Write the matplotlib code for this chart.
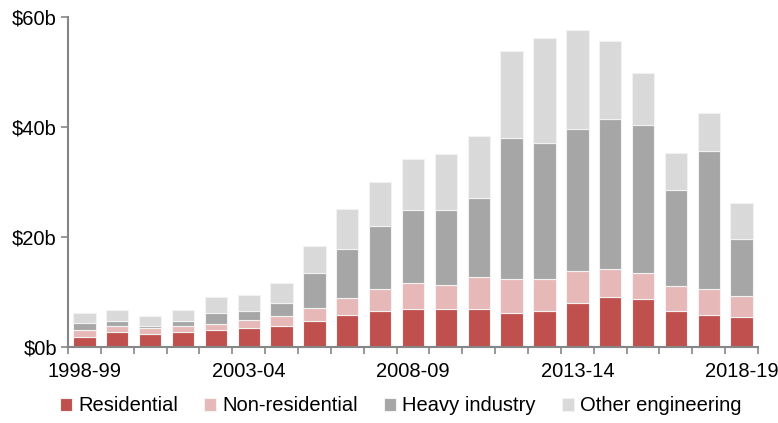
import matplotlib
matplotlib.use('Agg')
import matplotlib.pyplot as plt
import numpy as np

plt.rcParams['font.family'] = ['Liberation Sans', 'DejaVu Sans']

# Financial years
years = ['1998-99', '1999-00', '2000-01', '2001-02', '2002-03', '2003-04',
         '2004-05', '2005-06', '2006-07', '2007-08', '2008-09', '2009-10',
         '2010-11', '2011-12', '2012-13', '2013-14', '2014-15', '2015-16',
         '2016-17', '2017-18', '2018-19']

# Values in $b
residential = [1.9, 2.7, 2.3, 2.7, 3.0, 3.4, 3.8, 4.8, 5.9, 6.6, 6.9,
               6.9, 6.9, 6.2, 6.5, 8.0, 9.1, 8.7, 6.5, 5.8, 5.5]
non_residential = [1.1, 1.1, 1.1, 1.1, 1.15, 1.5, 1.8, 2.2, 3.0, 3.9, 4.7,
                   4.4, 5.8, 6.2, 5.8, 5.8, 5.1, 4.7, 4.5, 4.7, 3.7]
heavy_industry = [1.3, 1.0, 0.4, 1.0, 2.0, 1.7, 2.4, 6.4, 8.9, 11.4, 13.3,
                  13.6, 14.4, 25.5, 24.7, 25.8, 27.3, 26.9, 17.5, 25.1, 10.4]
other_engineering = [1.9, 1.9, 1.8, 1.9, 3.0, 2.9, 3.6, 5.0, 7.2, 8.0, 9.3,
                     10.1, 11.2, 15.8, 19.1, 17.9, 14.0, 9.4, 6.8, 6.9, 6.5]

series = [('Residential', residential, '#C0504D'),
          ('Non-residential', non_residential, '#E6B8B7'),
          ('Heavy industry', heavy_industry, '#A6A6A6'),
          ('Other engineering', other_engineering, '#D9D9D9')]

fig = plt.figure(figsize=(7.78, 4.23), dpi=100)
ax = fig.add_axes([0.0874, 0.1797, 0.887, 0.7809])

x = np.arange(len(years))
bottom = np.zeros(len(years))
for name, vals, col in series:
    ax.bar(x, vals, width=0.68, bottom=bottom, color=col, label=name,
           edgecolor='#F2F2F2', linewidth=0.8)
    bottom += np.array(vals)

ax.set_xlim(-0.5, len(years) - 0.5)
ax.set_ylim(0, 60)
ax.set_yticks([0, 20, 40, 60])
ax.set_yticklabels(['$0b', '$20b', '$40b', '$60b'])

ax.set_xticks(x[::5])
ax.set_xticklabels(years[::5])
ax.set_xticks(np.arange(-0.5, len(years)), minor=True)
ax.tick_params(axis='x', which='major', length=0, pad=11, labelsize=14.5)
ax.tick_params(axis='x', which='minor', length=5, width=1.2, color='#868686')
ax.tick_params(axis='y', length=5, width=1.2, color='#868686', labelsize=14.5, pad=3)

for s in ['top', 'right']:
    ax.spines[s].set_visible(False)
for s in ['left', 'bottom']:
    ax.spines[s].set_color('#868686')
    ax.spines[s].set_linewidth(1.5)

fig.legend(loc='lower center', bbox_to_anchor=(0.515, -0.025), ncol=4, frameon=False,
           fontsize=14.5, handlelength=0.6, handleheight=0.6, handletextpad=0.3,
           columnspacing=1.3)

fig.savefig('out.png', dpi=100)
